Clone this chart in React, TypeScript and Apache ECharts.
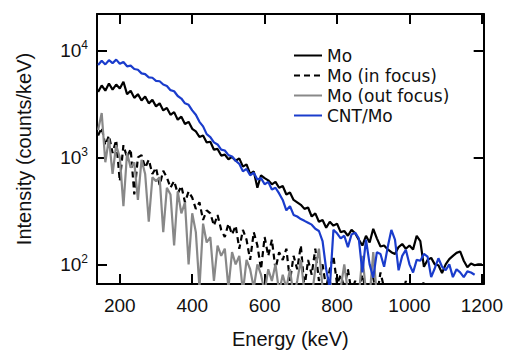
import React, { useEffect, useRef } from "react";
import * as echarts from "echarts";

const energy = [
  140, 150, 160, 170, 180, 190, 200, 210, 220, 230, 240, 250, 260, 270, 280, 290,
  300, 310, 320, 330, 340, 350, 360, 370, 380, 390, 400, 410, 420, 430, 440, 450,
  460, 470, 480, 490, 500, 510, 520, 530, 540, 550, 560, 570, 580, 590, 600, 610,
  620, 630, 640, 650, 660, 670, 680, 690, 700, 710, 720, 730, 740, 750, 760, 770,
  780, 790, 800, 810, 820, 830, 840, 850, 860, 870, 880, 890, 900, 910, 920, 930,
  940, 950, 960, 970, 980, 990, 1000, 1010, 1020, 1030, 1040, 1050, 1060, 1070,
  1080, 1090, 1100, 1110, 1120, 1130, 1140, 1150, 1160, 1170, 1180, 1190, 1200,
];

const moValues = [
  4100, 4700, 4200, 4900, 4300, 4800, 4400, 5100, 3900, 4200, 3600, 3900, 3400, 3700, 3200, 3450,
  3000, 3200, 2750, 2900, 2500, 2650, 2250, 2400, 2050, 2150, 1850, 1750, 1550, 1600, 1380, 1400,
  1180, 1200, 1040, 1060, 960, 1010, 930, 980, 820, 860, 700, 740, 520, 680, 640, 610,
  560, 590, 520, 540, 450, 470, 400, 380, 360, 330, 340, 280, 300, 250, 260, 220,
  250, 230, 240, 200, 205, 185, 210, 195, 170, 150, 185, 160, 215, 175, 147, 150,
  138, 130, 125, 145, 155, 140, 150, 138, 185, 165, 95, 110, 115, 100,
  98, 83, 100, 112, 120, 128, 132, 108, 94, 102, 98, 100, 100,
];

const inFocusValues = [
  1600, 1900, 1300, 1600, 1100, 1450, 600, 1300, 1000, 1200, 450, 1000, 1050, 800, 950, 700,
  800, 550, 750, 650, 520, 600, 460, 540, 380, 480, 420, 330, 380, 260, 320, 300,
  230, 290, 210, 180, 240, 190, 230, 140, 210, 170, 110, 200, 150, 90, 180, 120,
  170, 90, 130, 110, 140, 70, 120, 90, 150, 60, 110, 80, 140, 70, 100, 60,
  90, 120, 65, 80, 60, 90, 55, 70, 60, 80, 55, 60, 75, 50, 84, 60,
  55, 50, 65, 55, 50, 70, 50, 55, 60, 50, 70, 55, 50, 60,
  50, 55, 65, 50, 55, 50, 60, 50, 55, 50, 60, 50, 55,
];

const outFocusValues = [
  1800, 2600, 900, 1500, 700, 1300, 1000, 350, 1100, 800, 900, 400, 950, 700, 250, 650,
  600, 650, 200, 520, 450, 150, 480, 300, 380, 100, 300, 200, 60, 240, 160, 180,
  70, 150, 120, 140, 60, 130, 100, 120, 55, 110, 90, 60, 100, 80, 55, 90,
  70, 100, 55, 80, 60, 90, 50, 70, 110, 55, 60, 50, 90, 140, 60, 50,
  70, 55, 50, 60, 100, 55, 50, 60, 50, 120, 55, 50, 130, 50, 55, 50,
  60, 50, 55, 50, 50, 55, 50, 50, 55, 50, 50, 55, 50, 50,
  50, 55, 50, 50, 50, 55, 50, 50, 50, 50, 50, 50, 50,
];

const cntMoValues = [
  7300, 8000, 7400, 8100, 7600, 8200, 7500, 7800, 7100, 7200, 6700, 6600, 6100, 6000, 5600, 5550,
  5200, 5150, 4800, 4650, 4250, 4150, 3750, 3550, 3200, 3100, 2750, 2500, 2150, 1950, 1650, 1550,
  1380, 1320, 1180, 1160, 1050, 1020, 930, 870, 740, 780, 680, 720, 620, 640, 560, 590,
  500, 520, 460, 400, 320, 350, 290, 280, 265, 255, 245, 235, 215, 205, 165, 90,
  60, 210, 195, 175, 185, 145, 190, 198, 175, 84, 170, 100, 75, 130, 125, 95,
  145, 210, 170, 88, 120, 137, 100, 84, 110, 108, 125, 118, 76, 92,
  114, 95, 88, 100, 76, 90, 84, 76, 86, 84, 80, null, null,
];

const xTicks = [200, 400, 600, 800, 1000, 1200];
const yTicks = [100, 1000, 10000];
const seriesNames = ["Mo", "Mo (in focus)", "Mo (out focus)", "CNT/Mo"];

const X_MIN = 137;
const X_MAX = 1205;
const Y_MIN = 65.5;
const Y_MAX = 21900;

export default function App() {
  const ref = useRef<HTMLDivElement>(null);

  useEffect(() => {
    document.body.style.margin = "0";
    const chart = echarts.init(ref.current!, null, { renderer: "svg" });

    const pair = (vals: (number | null)[]) =>
      energy.map((e, i) => [e, vals[i]]).filter((p) => p[1] != null);

    const axisLine = { show: true, onZero: false, lineStyle: { color: "#000", width: 2 } };
    const tick = (values: number[]) => ({
      show: true,
      inside: true,
      length: 10,
      customValues: values,
      lineStyle: { color: "#000", width: 2 },
    });
    const labelFont = "'Liberation Sans', Arial, sans-serif";

    chart.setOption({
      animation: false,
      backgroundColor: "#fff",
      grid: { left: 97, right: 21, top: 14, bottom: 66, containLabel: false },
      legend: {
        orient: "vertical",
        left: 288,
        top: 42,
        itemWidth: 28,
        itemHeight: 12,
        itemGap: 3,
        data: seriesNames,
        itemStyle: { opacity: 0 },
        textStyle: { fontFamily: "'DejaVu Sans', sans-serif", fontSize: 17, color: "#111" },
      },
      xAxis: [
        {
          type: "value",
          min: X_MIN,
          max: X_MAX,
          position: "bottom",
          axisLine,
          axisTick: tick(xTicks),
          axisLabel: {
            customValues: xTicks,
            color: "#111",
            fontSize: 19,
            fontFamily: labelFont,
            margin: 12,
            formatter: (v: number) => String(v),
          },
          splitLine: { show: false },
          name: "Energy (keV)",
          nameLocation: "middle",
          nameGap: 45,
          nameTextStyle: { color: "#111", fontSize: 20, fontFamily: labelFont },
        },
        {
          type: "value",
          min: X_MIN,
          max: X_MAX,
          position: "top",
          axisLine,
          axisTick: tick(xTicks),
          axisLabel: { show: false },
          splitLine: { show: false },
        },
      ],
      yAxis: [
        {
          type: "log",
          logBase: 10,
          min: Y_MIN,
          max: Y_MAX,
          position: "left",
          axisLine,
          axisTick: tick(yTicks),
          minorTick: { show: false },
          axisLabel: {
            customValues: yTicks,
            color: "#111",
            fontSize: 19,
            fontFamily: labelFont,
            margin: 9,
            formatter: (v: number) => `10{e|${Math.round(Math.log10(v))}}`,
            rich: {
              e: { fontSize: 12, fontFamily: labelFont, color: "#111", padding: [0, 0, 11, 0] },
            },
          },
          splitLine: { show: false },
          name: "Intensity (counts/keV)",
          nameLocation: "middle",
          nameGap: 63,
          nameTextStyle: { color: "#111", fontSize: 20, fontFamily: labelFont },
        },
        {
          type: "log",
          logBase: 10,
          min: Y_MIN,
          max: Y_MAX,
          position: "right",
          axisLine,
          axisTick: tick(yTicks),
          axisLabel: { show: false },
          splitLine: { show: false },
        },
      ],
      series: [
        {
          name: "Mo",
          type: "line",
          data: pair(moValues),
          symbol: "none",
          z: 4,
          lineStyle: { color: "#000", width: 2.2 },
          itemStyle: { color: "#000" },
        },
        {
          name: "Mo (in focus)",
          type: "line",
          data: pair(inFocusValues),
          symbol: "none",
          z: 2,
          lineStyle: { color: "#000", width: 2.2, type: [6, 4] },
          itemStyle: { color: "#000" },
        },
        {
          name: "Mo (out focus)",
          type: "line",
          data: pair(outFocusValues),
          symbol: "none",
          z: 3,
          lineStyle: { color: "#888", width: 2.2 },
          itemStyle: { color: "#888" },
        },
        {
          name: "CNT/Mo",
          type: "line",
          data: pair(cntMoValues),
          symbol: "none",
          z: 5,
          lineStyle: { color: "#1a3ccc", width: 2.2 },
          itemStyle: { color: "#1a3ccc" },
        },
      ],
    });

    return () => chart.dispose();
  }, []);

  return <div ref={ref} style={{ width: 506, height: 354 }} />;
}
